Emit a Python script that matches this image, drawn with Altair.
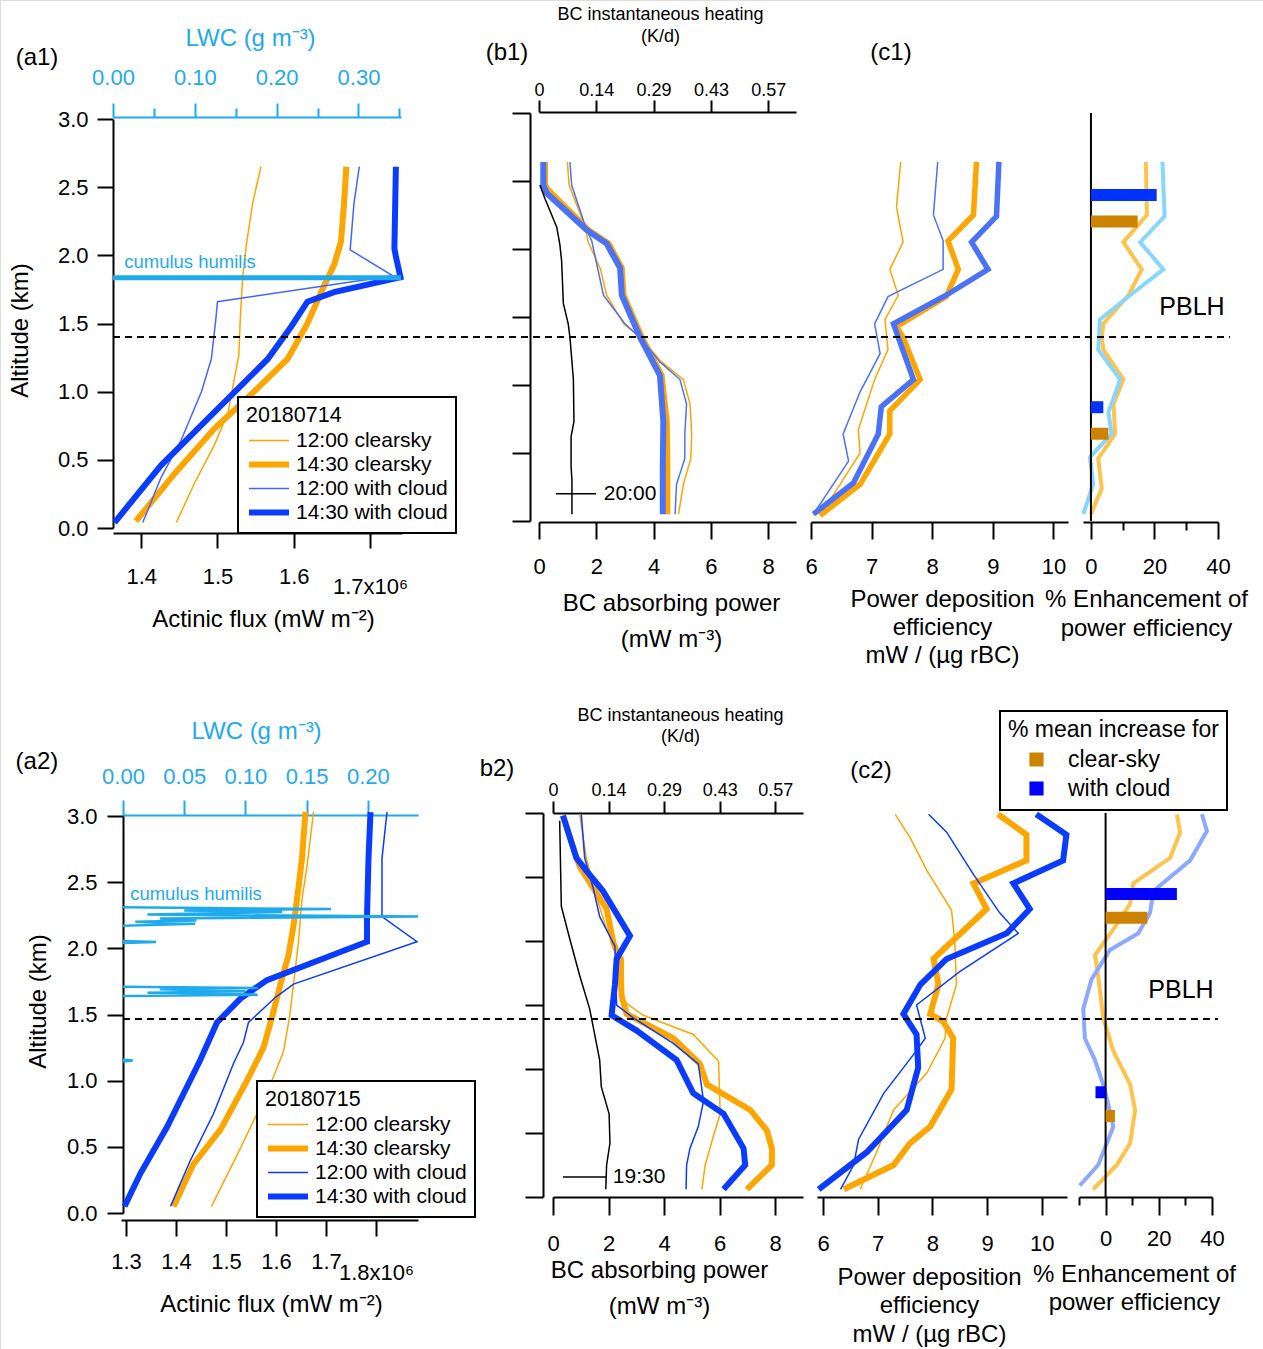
import altair as alt
import pandas as pd

FONT = "Liberation Sans"
W, H = 1263, 1349

ORANGE = "#FFA500"
A1_BLUE_THIN = "#4466FF"
A1_BLUE_THICK = "#0A3CFF"
B1_BLUE = "#4A72F8"
R2_BLUE = "#0A3CFF"
LWC_BLUE = "#1FAAEE"
D_ORANGE = "#FFC24A"
D1_BLUE = "#86D6FF"
D2_BLUE = "#8DA8FF"
BROWN = "#CC8400"
BAR1_BLUE = "#0033FF"
BAR2_BLUE = "#0000FF"

LINE_LABELS = ["12:00 clearsky", "14:30 clearsky", "12:00 with cloud", "14:30 with cloud"]
BAR_LABELS = ["clear-sky", "with cloud"]
ALT_TICKS = [0, 0.5, 1.0, 1.5, 2.0, 2.5, 3.0]

# ===================== Row 1 : 20180714 =====================
A1_FLUX_C12 = [1.446, 1.470, 1.496, 1.514, 1.522, 1.528, 1.530, 1.533, 1.538, 1.546, 1.557]
A1_ALT_C12 = [0.04, 0.33, 0.61, 0.85, 1.09, 1.27, 1.54, 1.84, 2.08, 2.38, 2.65]
A1_FLUX_C14 = [1.393, 1.444, 1.496, 1.548, 1.592, 1.618, 1.640, 1.653, 1.662, 1.666, 1.669]
A1_ALT_C14 = [0.05, 0.40, 0.73, 1.00, 1.24, 1.50, 1.78, 1.93, 2.10, 2.38, 2.65]
A1_FLUX_W12 = [1.402, 1.426, 1.452, 1.479, 1.492, 1.498, 1.500, 1.730, 1.674, 1.679, 1.686]
A1_ALT_W12 = [0.04, 0.37, 0.64, 1.00, 1.24, 1.54, 1.66, 1.85, 2.04, 2.38, 2.65]
A1_FLUX_W14 = [1.365, 1.426, 1.496, 1.566, 1.597, 1.618, 1.653, 1.740, 1.734, 1.732, 1.734]
A1_ALT_W14 = [0.04, 0.46, 0.85, 1.24, 1.48, 1.66, 1.73, 1.84, 1.99, 2.05, 2.65]
A1_LWC = [0.0, 0.352]
A1_LWC_ALT = [1.835, 1.835]

B1_P_C12 = [0.99, 1.05, 1.60, 1.72, 2.15, 2.36, 2.95, 3.53, 4.28, 5.04, 5.27, 5.33, 5.30, 5.04, 4.87]
B1_ALT_C12 = [2.64, 2.47, 2.17, 2.05, 1.85, 1.66, 1.45, 1.35, 1.17, 1.04, 0.86, 0.64, 0.46, 0.27, 0.05]
B1_P_C14 = [0.21, 0.21, 0.29, 1.72, 2.43, 2.89, 2.95, 3.59, 4.28, 4.46, 4.48, 4.48]
B1_ALT_C14 = [2.64, 2.47, 2.44, 2.14, 2.04, 1.86, 1.66, 1.35, 1.07, 0.73, 0.40, 0.05]
B1_P_W12 = [1.08, 1.14, 1.66, 1.84, 2.25, 3.00, 3.53, 4.22, 4.92, 5.15, 5.09, 5.09, 4.80, 4.75]
B1_ALT_W12 = [2.64, 2.47, 2.14, 2.06, 1.66, 1.45, 1.35, 1.17, 1.04, 0.86, 0.64, 0.46, 0.27, 0.05]
B1_P_W14 = [0.15, 0.15, 0.27, 1.66, 2.36, 2.83, 2.89, 3.53, 4.22, 4.34, 4.32, 4.32]
B1_ALT_W14 = [2.64, 2.47, 2.41, 2.14, 2.04, 1.86, 1.66, 1.35, 1.07, 0.73, 0.40, 0.05]
B1_P_BLACK = [0.03, 0.21, 0.62, 0.73, 0.79, 0.85, 1.02, 1.08, 1.20, 1.22, 1.12, 1.12, 1.15, 1.15]
B1_ALT_BLACK = [2.47, 2.37, 2.16, 2.03, 1.91, 1.60, 1.45, 1.35, 1.04, 0.73, 0.62, 0.40, 0.30, 0.05]
B1_MARK_P = [0.59, 1.99]
B1_MARK_ALT = [0.20]

C1_E_C12 = [7.48, 7.41, 7.52, 7.30, 7.44, 7.22, 7.27, 7.05, 6.78, 6.81, 6.48, 6.15]
C1_ALT_C12 = [2.64, 2.31, 2.05, 1.85, 1.66, 1.48, 1.26, 1.04, 0.67, 0.50, 0.27, 0.04]
C1_E_C14 = [8.73, 8.68, 8.26, 8.43, 8.23, 7.41, 7.52, 7.80, 7.30, 7.30, 6.81, 6.15]
C1_ALT_C14 = [2.64, 2.25, 2.06, 1.85, 1.65, 1.43, 1.35, 1.04, 0.81, 0.64, 0.27, 0.04]
C1_E_W12 = [8.09, 8.02, 8.18, 8.18, 7.27, 7.05, 7.14, 6.81, 6.53, 6.62, 6.04]
C1_ALT_W12 = [2.64, 2.25, 2.06, 1.85, 1.65, 1.45, 1.23, 0.95, 0.64, 0.44, 0.05]
C1_E_W14 = [9.10, 9.06, 8.65, 8.92, 8.23, 7.36, 7.44, 7.69, 7.16, 7.11, 6.70, 6.04]
C1_ALT_W14 = [2.64, 2.24, 2.05, 1.85, 1.66, 1.45, 1.35, 1.04, 0.84, 0.64, 0.28, 0.05]

D1_PCT_CLEAR = [17.3, 17.6, 10.2, 16.0, 11.8, 3.9, 3.4, 3.9, 10.2, 7.1, 7.6, 2.3, 3.4, 0.0]
D1_ALT_CLEAR = [2.64, 2.25, 2.05, 1.85, 1.66, 1.45, 1.35, 1.26, 1.04, 0.86, 0.64, 0.46, 0.24, 0.05]
D1_PCT_CLOUD = [22.5, 23.2, 15.5, 22.8, 12.3, 2.8, 2.3, 9.2, 5.5, 6.5, -0.3, 0.7, -2.4]
D1_ALT_CLOUD = [2.64, 2.24, 2.05, 1.85, 1.66, 1.48, 1.26, 1.04, 0.80, 0.64, 0.47, 0.27, 0.05]
D1_BAR_KIND = ["with cloud", "clear-sky", "with cloud", "clear-sky"]
D1_BAR_PCT = [20.7, 14.7, 3.9, 5.5]
D1_BAR_ALT = [2.42, 2.22, 0.82, 0.62]

PBLH1_ALT = [1.401]

# ===================== Row 2 : 20180715 =====================
A2_FLUX_C12 = [1.471, 1.529, 1.562, 1.595, 1.615, 1.627, 1.635, 1.645, 1.652, 1.662, 1.675]
A2_ALT_C12 = [0.05, 0.49, 0.75, 1.03, 1.22, 1.48, 1.73, 2.05, 2.37, 2.62, 3.03]
A2_FLUX_C14 = [1.395, 1.435, 1.489, 1.542, 1.575, 1.592, 1.609, 1.625, 1.635, 1.645, 1.652, 1.659]
A2_ALT_C14 = [0.05, 0.37, 0.63, 1.00, 1.25, 1.48, 1.73, 1.95, 2.17, 2.46, 2.68, 3.03]
A2_FLUX_W12 = [1.389, 1.429, 1.475, 1.515, 1.535, 1.545, 1.599, 1.635, 1.882, 1.812, 1.812, 1.822]
A2_ALT_W12 = [0.05, 0.40, 0.75, 1.13, 1.29, 1.44, 1.63, 1.73, 2.05, 2.24, 2.68, 3.03]
A2_FLUX_W14 = [1.297, 1.329, 1.382, 1.449, 1.482, 1.529, 1.582, 1.782, 1.782, 1.785, 1.789]
A2_ALT_W14 = [0.05, 0.30, 0.65, 1.16, 1.44, 1.62, 1.76, 2.05, 2.24, 2.68, 3.03]
A2_LWC_GROUP = [0, 0, 0, 1, 1, 1, 1, 1, 1, 1, 2, 2, 2,
                3, 3, 3, 3, 3, 3, 3, 3, 3, 3, 3]
A2_LWC = [0.0, 0.008, 0.0, 0.0, 0.11, 0.02, 0.10, 0.03, 0.11, 0.0, 0.0, 0.027, 0.0,
          0.0, 0.059, 0.01, 0.06, 0.03, 0.241, 0.02, 0.13, 0.05, 0.17, 0.0]
A2_LWC_ALT = [1.145, 1.152, 1.158, 1.64, 1.65, 1.665, 1.675, 1.69, 1.70, 1.71, 2.04, 2.048, 2.056,
              2.17, 2.185, 2.20, 2.21, 2.225, 2.24, 2.255, 2.275, 2.285, 2.297, 2.31]

B2_P_C12 = [0.96, 1.20, 1.50, 1.93, 2.53, 2.53, 3.25, 5.05, 5.96, 6.02, 5.78, 5.48, 5.36]
B2_ALT_C12 = [2.99, 2.65, 2.39, 2.09, 1.86, 1.53, 1.42, 1.27, 1.06, 0.65, 0.48, 0.25, 0.06]
B2_P_C14 = [0.36, 0.96, 1.93, 2.17, 2.41, 2.47, 2.65, 4.33, 5.29, 5.54, 7.10, 7.70, 7.88, 7.88, 6.98]
B2_ALT_C14 = [2.98, 2.58, 2.25, 1.99, 1.86, 1.57, 1.43, 1.24, 1.04, 0.88, 0.68, 0.52, 0.38, 0.25, 0.06]
B2_P_W12 = [1.02, 1.14, 1.44, 1.68, 2.23, 2.29, 2.89, 4.33, 5.23, 5.42, 5.23, 4.93, 4.81, 4.79]
B2_ALT_W12 = [2.99, 2.65, 2.42, 2.19, 1.96, 1.50, 1.40, 1.20, 1.04, 0.75, 0.55, 0.38, 0.25, 0.06]
B2_P_W14 = [0.36, 0.84, 1.20, 1.80, 2.77, 2.29, 2.23, 2.11, 3.01, 4.45, 5.05, 6.14, 6.86, 6.92, 6.14]
B2_ALT_W14 = [2.98, 2.65, 2.55, 2.39, 2.04, 1.86, 1.66, 1.42, 1.30, 1.07, 0.81, 0.65, 0.38, 0.25, 0.06]
B2_P_BLACK = [0.24, 0.30, 0.60, 0.96, 1.32, 1.50, 1.68, 1.74, 2.02, 2.05, 1.93, 1.90]
B2_ALT_BLACK = [2.94, 2.27, 2.02, 1.73, 1.47, 1.27, 1.07, 0.86, 0.65, 0.42, 0.25, 0.06]
B2_MARK_P = [0.36, 1.93]
B2_MARK_ALT = [0.156]

C2_E_C12 = [7.32, 7.59, 7.90, 8.35, 8.41, 8.44, 8.26, 8.23, 7.90, 7.29, 6.98, 6.68]
C2_ALT_C12 = [2.99, 2.81, 2.55, 2.24, 1.99, 1.66, 1.40, 1.24, 0.97, 0.68, 0.35, 0.06]
C2_E_C14 = [9.20, 9.72, 9.72, 8.75, 8.99, 8.02, 8.11, 7.96, 8.20, 8.38, 8.35, 7.96, 7.59, 7.29, 6.38]
C2_ALT_C14 = [2.99, 2.83, 2.63, 2.45, 2.25, 1.86, 1.66, 1.43, 1.37, 1.24, 0.84, 0.55, 0.42, 0.25, 0.06]
C2_E_W12 = [7.93, 8.26, 8.75, 9.23, 9.57, 8.50, 7.71, 7.87, 7.65, 7.11, 6.65, 6.56, 6.32]
C2_ALT_W12 = [2.99, 2.85, 2.52, 2.22, 2.06, 1.76, 1.50, 1.24, 1.11, 0.81, 0.45, 0.25, 0.06]
C2_E_W14 = [9.90, 10.45, 10.39, 9.48, 9.78, 9.36, 8.26, 7.78, 7.47, 7.71, 7.74, 7.53, 6.80, 5.92]
C2_ALT_W14 = [2.99, 2.83, 2.63, 2.45, 2.25, 2.06, 1.86, 1.66, 1.43, 1.27, 1.01, 0.68, 0.35, 0.06]

D2_PCT_CLEAR = [26.8, 28.0, 24.3, 10.4, 9.2, 2.9, -4.0, -2.8, -0.9, 2.9, 9.2, 11.1, 9.2, 4.2, -4.7]
D2_ALT_CLEAR = [2.99, 2.85, 2.65, 2.45, 2.29, 2.09, 1.89, 1.73, 1.40, 1.14, 0.88, 0.68, 0.42, 0.25, 0.06]
D2_PCT_CLOUD = [36.2, 38.1, 31.8, 18.0, 16.7, 12.3, 1.6, -5.3, -8.4, -7.8, -4.0, -0.3, 2.9, -0.3, -2.8, -9.7]
D2_ALT_CLOUD = [2.99, 2.86, 2.63, 2.39, 2.22, 2.06, 1.93, 1.70, 1.47, 1.24, 1.07, 0.84, 0.55, 0.38, 0.25, 0.09]
D2_BAR_KIND = ["with cloud", "clear-sky", "with cloud", "clear-sky"]
D2_BAR_PCT = [26.8, 15.7, -3.8, 3.5]
D2_BAR_ALT = [2.39, 2.20, 0.80, 0.61]

PBLH2_ALT = [1.466]
PBLH_SPAN = [0.0, 1.0]

# annotation texts (positions in the units of the panel they sit in)
R1A_TEXT = ["(a1)", "cumulus humilis"]
R1A_LWC = [-0.0929, 0.0941]
R1A_ALT = [3.447, 1.951]
R1B_TEXT = ["(b1)", "20:00"]
R1B_P = [-1.117, 3.18]
R1B_ALT = [3.441, 0.199]
R1C_TEXT = ["(c1)"]
R1C_E = [7.32]
R1C_ALT = [3.441]
R1D_TEXT = ["PBLH"]
R1D_PCT = [31.8]
R1D_ALT = [1.574]

R2A_TEXT = ["(a2)", "cumulus humilis"]
R2A_LWC = [-0.0703, 0.0596]
R2A_ALT = [3.408, 2.411]
R2B_TEXT = ["b2)", "19:30"]
R2B_P = [-2.016, 3.10]
R2B_ALT = [3.344, 0.156]
R2C_TEXT = ["(c2)"]
R2C_E = [6.877]
R2C_ALT = [3.328]
R2D_TEXT = ["PBLH"]
R2D_PCT = [28.35]
R2D_ALT = [1.617]


# ===================== helpers =====================
def S(domain, rng):
    return alt.Scale(domain=domain, range=rng, nice=False, zero=False)


# scales (pixel ranges place each panel on the page)
A1_X = S([1.363, 1.742], [113, 402])
A1_LX = S([0.0, 0.352], [113, 401])
A1_Y = S([0, 3], [528, 119])
B1_X = S([0.0, 8.97], [539, 796])
C1_X = S([6.0, 10.24], [811, 1068])
D1_X = S([-2.5, 40.0], [1083, 1218])
R1_Y = S([0, 3], [521, 113])
SP1_X = S([0, 1], [113, 1230])

A2_X = S([1.29, 1.884], [121, 418])
A2_LX = S([0.0, 0.241], [123, 418])
A2_Y = S([0, 3], [1213, 816])
B2_X = S([0.0, 9.0], [553, 803])
C2_X = S([5.89, 10.461], [817, 1067])
D2_X = S([-10.0, 40.0], [1079, 1212])
R2_Y = S([0, 3], [1197, 813])
SP2_X = S([0, 1], [123, 1218])

AXBASE = dict(grid=False, labelFlush=False, labelOverlap=False, domainWidth=2, tickWidth=2,
              domainColor="black", tickColor="black", labelColor="black", titleColor="black",
              labelFont=FONT, titleFont=FONT, titleFontWeight="normal", labelFontSize=22,
              titleFontSize=24)


def ax(**kw):
    d = dict(AXBASE)
    d.update(kw)
    return alt.Axis(**d)


def prof(*series):
    rows = []
    for k, xs, ys in series:
        for i, (x, y) in enumerate(zip(xs, ys)):
            rows.append({"k": k, "x": x, "alt": y, "i": i})
    return pd.DataFrame(rows)


TH = [0.5, 1.5, 2.5]


def four_lines(df, xs, ys, colors, widths, xaxis=None, yaxis=None, legend=None):
    return alt.Chart(df).mark_line(strokeCap="butt").encode(
        x=alt.X("x:Q", scale=xs, axis=xaxis),
        y=alt.Y("alt:Q", scale=ys, axis=yaxis),
        color=alt.Color("k:Q", scale=alt.Scale(type="threshold", domain=TH, range=colors), legend=legend),
        strokeWidth=alt.StrokeWidth("k:Q", scale=alt.Scale(type="threshold", domain=TH, range=widths),
                                    legend=legend),
        detail="k:N",
        order="i:Q",
    )


def line_legend(title, lx, ly):
    expr = "[" + ",".join("'%s'" % s for s in LINE_LABELS) + "][datum.index]"
    return alt.Legend(title=title, orient="none", legendX=lx, legendY=ly, symbolType="stroke",
                      symbolSize=1600, clipHeight=24, labelExpr=expr, labelFontSize=21,
                      titleFontSize=21.5, titleFontWeight="normal", labelFont=FONT, titleFont=FONT,
                      labelColor="black", titleColor="black", strokeColor="black", fillColor="white",
                      padding=8, labelOffset=4, titlePadding=2, rowPadding=0, zindex=1,
                      titleLimit=400, labelLimit=400)


def black_line(xs_vals, alts, xs, ys, xaxis):
    df = pd.DataFrame({"x": xs_vals, "alt": alts, "i": list(range(len(alts)))})
    return alt.Chart(df).mark_line(color="black", strokeWidth=1.5).encode(
        x=alt.X("x:Q", scale=xs, axis=xaxis), y=alt.Y("alt:Q", scale=ys, axis=None), order="i:Q")


def marker(pvals, alt_val, xs, ys):
    df = pd.DataFrame({"x0": [pvals[0]], "x1": [pvals[1]], "alt": alt_val})
    return alt.Chart(df).mark_rule(color="black", strokeWidth=1.5).encode(
        x=alt.X("x0:Q", scale=xs, axis=None), x2="x1", y=alt.Y("alt:Q", scale=ys, axis=None))


def two_lines(xa, ya, xb, yb, colors, xs, ys, xaxis):
    df = prof((0, xa, ya), (1, xb, yb))
    return alt.Chart(df).mark_line(strokeWidth=4, strokeCap="butt").encode(
        x=alt.X("x:Q", scale=xs, axis=xaxis), y=alt.Y("alt:Q", scale=ys, axis=None),
        color=alt.Color("k:N", scale=alt.Scale(domain=[0, 1], range=colors), legend=None),
        detail="k:N", order="i:Q")


def zero_rule(xs, ys, minor_axis):
    df = pd.DataFrame({"z": [0.0], "a0": [0.0], "a1": [3.0]})
    return alt.Chart(df).mark_rule(color="black", strokeWidth=2).encode(
        x=alt.X("z:Q", scale=xs, axis=minor_axis), y=alt.Y("a0:Q", scale=ys, axis=None), y2="a1")


def bars(kinds, pcts, alts, blue, xs, ys, legend=None):
    df = pd.DataFrame({"kind": kinds, "v": pcts, "z": [0.0] * len(pcts), "alt": alts})
    return alt.Chart(df).mark_bar(size=12, orient="horizontal").encode(
        x=alt.X("v:Q", scale=xs, axis=None), x2="z", y=alt.Y("alt:Q", scale=ys, axis=None),
        color=alt.Color("kind:N", scale=alt.Scale(domain=BAR_LABELS, range=[BROWN, blue]), legend=legend))


def pblh(alt_val, xs, ys):
    df = pd.DataFrame({"x0": [PBLH_SPAN[0]], "x1": [PBLH_SPAN[1]], "alt": alt_val})
    return alt.Chart(df).mark_rule(color="black", strokeWidth=2, strokeDash=[7, 5]).encode(
        x=alt.X("x0:Q", scale=xs, axis=None), x2="x1", y=alt.Y("alt:Q", scale=ys, axis=None))


def texts(labels, xv, av, sizes, colors, xs, ys, xaxis=None):
    df = pd.DataFrame({"t": labels, "x": xv, "alt": av, "fs": sizes, "c": colors})
    return alt.Chart(df).mark_text(font=FONT, align="center", baseline="middle").encode(
        x=alt.X("x:Q", scale=xs, axis=xaxis), y=alt.Y("alt:Q", scale=ys, axis=None),
        text="t:N", size=alt.Size("fs:Q", scale=None), color=alt.Color("c:N", scale=None))


HEAT_EXPR = "datum.value == 0 ? '0' : format(datum.value * 0.0714, '.2f')"

layers = []

# ---------------- Row 1 ----------------
df_a1 = prof((0, A1_FLUX_C12, A1_ALT_C12), (1, A1_FLUX_C14, A1_ALT_C14),
             (2, A1_FLUX_W12, A1_ALT_W12), (3, A1_FLUX_W14, A1_ALT_W14))
layers.append(four_lines(
    df_a1, A1_X, A1_Y, [ORANGE, ORANGE, A1_BLUE_THIN, A1_BLUE_THICK], [1.5, 6, 1.5, 6],
    xaxis=ax(orient="bottom", offset=533 - H, values=[1.4, 1.5, 1.6, 1.7], tickSize=15,
             labelExpr="datum.value > 1.65 ? '1.7x10\u2076' : format(datum.value, '.1f')",
             labelPadding={"condition": {"test": "datum.value > 1.65", "value": 28.5}, "value": 18.5},
             title="Actinic flux (mW m\u207b\u00b2)", titleX=263, titleY=74, titleBaseline="top",
             titleAlign="center"),
    yaxis=ax(orient="left", offset=-113, values=ALT_TICKS, format=".1f", tickSize=16, labelPadding=9,
             title="Altitude (km)", titleAngle=270, titleX=-93, titleY=330, titleBaseline="middle",
             titleAlign="center"),
    legend=line_legend("20180714", 238, 397)))
df_lwc1 = pd.DataFrame({"x": A1_LWC, "alt": A1_LWC_ALT, "i": [0, 1]})
layers.append(alt.Chart(df_lwc1).mark_line(color=LWC_BLUE, strokeWidth=5).encode(
    x=alt.X("x:Q", scale=A1_LX,
            axis=ax(orient="top", offset=-117, values=[0, 0.1, 0.2, 0.3], format=".2f", tickSize=14,
                    labelPadding=13.5, labelColor=LWC_BLUE, domainColor=LWC_BLUE, tickColor=LWC_BLUE,
                    title="LWC (g m\u207b\u00b3)", titleColor=LWC_BLUE, titleX=250, titleY=-79,
                    titleBaseline="middle", titleAlign="center")),
    y=alt.Y("alt:Q", scale=A1_Y, axis=None), order="i:Q"))
layers.append(texts(R1A_TEXT, R1A_LWC, R1A_ALT, [24, 18.5], ["black", LWC_BLUE], A1_LX, A1_Y,
                    xaxis=ax(orient="top", offset=-117, values=[0.05, 0.15, 0.25, 0.35], tickSize=9,
                             labels=False, domain=False, tickColor=LWC_BLUE, title=None)))

df_b1 = prof((0, B1_P_C12, B1_ALT_C12), (1, B1_P_C14, B1_ALT_C14),
             (2, B1_P_W12, B1_ALT_W12), (3, B1_P_W14, B1_ALT_W14))
layers.append(four_lines(
    df_b1, B1_X, R1_Y, [ORANGE, ORANGE, B1_BLUE, B1_BLUE], [1.5, 6, 1.5, 6],
    xaxis=ax(orient="bottom", offset=522 - H, values=[0, 2, 4, 6, 8], format="d", tickSize=17,
             labelPadding=17.5, title=["BC absorbing power", "(mW m\u207b\u00b3)"], titleX=671,
             titleY=69, titleBaseline="top", titleAlign="center", titleLineHeight=36),
    yaxis=ax(orient="left", offset=-530, values=ALT_TICKS, tickSize=18, labels=False, title=None)))
layers.append(black_line(B1_P_BLACK, B1_ALT_BLACK, B1_X, R1_Y,
                         ax(orient="top", offset=-112, values=[0, 2, 4, 6, 8], labelExpr=HEAT_EXPR,
                            tickSize=12, labelPadding=1, labelFontSize=18,
                            title=["BC instantaneous heating", "(K/d)"], titleFontSize=18, titleX=660,
                            titleY=-106.3, titleBaseline="top", titleAlign="center",
                            titleLineHeight=22)))
layers.append(marker(B1_MARK_P, B1_MARK_ALT, B1_X, R1_Y))
layers.append(texts(R1B_TEXT, R1B_P, R1B_ALT, [24, 21], ["black", "black"], B1_X, R1_Y))

df_c1 = prof((0, C1_E_C12, C1_ALT_C12), (1, C1_E_C14, C1_ALT_C14),
             (2, C1_E_W12, C1_ALT_W12), (3, C1_E_W14, C1_ALT_W14))
layers.append(four_lines(
    df_c1, C1_X, R1_Y, [ORANGE, ORANGE, B1_BLUE, B1_BLUE], [1.5, 5.5, 1.5, 5.5],
    xaxis=ax(orient="bottom", offset=522 - H, values=[6, 7, 8, 9, 10], format="d", tickSize=17,
             labelPadding=17.5, title=["Power deposition", "efficiency", "mW / (\u00b5g rBC)"],
             titleX=942, titleY=65, titleBaseline="top", titleAlign="center", titleLineHeight=28)))
layers.append(texts(R1C_TEXT, R1C_E, R1C_ALT, [24], ["black"], C1_X, R1_Y))

layers.append(two_lines(D1_PCT_CLEAR, D1_ALT_CLEAR, D1_PCT_CLOUD, D1_ALT_CLOUD, [D_ORANGE, D1_BLUE],
                        D1_X, R1_Y,
                        ax(orient="bottom", offset=522 - H, values=[0, 20, 40], format="d", tickSize=17,
                           labelPadding=17.5, title=["% Enhancement of", "power efficiency"],
                           titleX=1146, titleY=65, titleBaseline="top", titleAlign="center",
                           titleLineHeight=29)))
layers.append(zero_rule(D1_X, R1_Y, ax(orient="bottom", offset=522 - H, values=[10, 30], tickSize=8,
                                       labels=False, domain=False, title=None)))
layers.append(bars(D1_BAR_KIND, D1_BAR_PCT, D1_BAR_ALT, BAR1_BLUE, D1_X, R1_Y))
layers.append(texts(R1D_TEXT, R1D_PCT, R1D_ALT, [25], ["black"], D1_X, R1_Y))
layers.append(pblh(PBLH1_ALT, SP1_X, A1_Y))

# ---------------- Row 2 ----------------
df_a2 = prof((0, A2_FLUX_C12, A2_ALT_C12), (1, A2_FLUX_C14, A2_ALT_C14),
             (2, A2_FLUX_W12, A2_ALT_W12), (3, A2_FLUX_W14, A2_ALT_W14))
layers.append(four_lines(
    df_a2, A2_X, A2_Y, [ORANGE, ORANGE, R2_BLUE, R2_BLUE], [1.5, 6, 1.5, 6],
    xaxis=ax(orient="bottom", offset=1220 - H, values=[1.3, 1.4, 1.5, 1.6, 1.7, 1.8], tickSize=16,
             labelExpr="datum.value > 1.75 ? '1.8x10\u2076' : format(datum.value, '.1f')",
             labelPadding={"condition": {"test": "datum.value > 1.75", "value": 26.5}, "value": 15.5},
             title="Actinic flux (mW m\u207b\u00b2)", titleX=271, titleY=72.5, titleBaseline="top",
             titleAlign="center"),
    yaxis=ax(orient="left", offset=-123, values=ALT_TICKS, format=".1f", tickSize=16, labelPadding=10,
             title="Altitude (km)", titleAngle=270, titleX=-85, titleY=1001, titleBaseline="middle",
             titleAlign="center"),
    legend=line_legend("20180715", 257, 1081)))
df_lwc2 = pd.DataFrame({"x": A2_LWC, "alt": A2_LWC_ALT, "g": A2_LWC_GROUP,
                        "i": list(range(len(A2_LWC)))})
layers.append(alt.Chart(df_lwc2).mark_line(color=LWC_BLUE, strokeWidth=2.5).encode(
    x=alt.X("x:Q", scale=A2_LX,
            axis=ax(orient="top", offset=-815, values=[0, 0.05, 0.1, 0.15, 0.2], format=".2f",
                    tickSize=15, labelPadding=11.5, labelColor=LWC_BLUE, domainColor=LWC_BLUE,
                    tickColor=LWC_BLUE, title="LWC (g m\u207b\u00b3)", titleColor=LWC_BLUE, titleX=256,
                    titleY=-84, titleBaseline="middle", titleAlign="center")),
    y=alt.Y("alt:Q", scale=A2_Y, axis=None), detail="g:N", order="i:Q"))
layers.append(texts(R2A_TEXT, R2A_LWC, R2A_ALT, [24, 18.5], ["black", LWC_BLUE], A2_LX, A2_Y))

df_b2 = prof((0, B2_P_C12, B2_ALT_C12), (1, B2_P_C14, B2_ALT_C14),
             (2, B2_P_W12, B2_ALT_W12), (3, B2_P_W14, B2_ALT_W14))
layers.append(four_lines(
    df_b2, B2_X, R2_Y, [ORANGE, ORANGE, R2_BLUE, R2_BLUE], [1.5, 6, 1.5, 6],
    xaxis=ax(orient="bottom", offset=1197 - H, values=[0, 2, 4, 6, 8], format="d", tickSize=18,
             labelPadding=18, title=["BC absorbing power", "(mW m\u207b\u00b3)"], titleX=659,
             titleY=61, titleBaseline="top", titleAlign="center", titleLineHeight=36.5),
    yaxis=ax(orient="left", offset=-543, values=ALT_TICKS, tickSize=18, labels=False, title=None)))
layers.append(black_line(B2_P_BLACK, B2_ALT_BLACK, B2_X, R2_Y,
                         ax(orient="top", offset=-813, values=[0, 2, 4, 6, 8], labelExpr=HEAT_EXPR,
                            tickSize=12, labelPadding=1.8, labelFontSize=18,
                            title=["BC instantaneous heating", "(K/d)"], titleFontSize=18, titleX=680,
                            titleY=-106.3, titleBaseline="top", titleAlign="center",
                            titleLineHeight=21)))
layers.append(marker(B2_MARK_P, B2_MARK_ALT, B2_X, R2_Y))
layers.append(texts(R2B_TEXT, R2B_P, R2B_ALT, [24, 21], ["black", "black"], B2_X, R2_Y))

df_c2 = prof((0, C2_E_C12, C2_ALT_C12), (1, C2_E_C14, C2_ALT_C14),
             (2, C2_E_W12, C2_ALT_W12), (3, C2_E_W14, C2_ALT_W14))
layers.append(four_lines(
    df_c2, C2_X, R2_Y, [ORANGE, ORANGE, R2_BLUE, R2_BLUE], [1.5, 6, 1.5, 6],
    xaxis=ax(orient="bottom", offset=1197 - H, values=[6, 7, 8, 9, 10], format="d", tickSize=18,
             labelPadding=18, title=["Power deposition", "efficiency", "mW / (\u00b5g rBC)"],
             titleX=929, titleY=68, titleBaseline="top", titleAlign="center", titleLineHeight=28.5)))
layers.append(texts(R2C_TEXT, R2C_E, R2C_ALT, [24], ["black"], C2_X, R2_Y))

layers.append(two_lines(D2_PCT_CLEAR, D2_ALT_CLEAR, D2_PCT_CLOUD, D2_ALT_CLOUD, [D_ORANGE, D2_BLUE],
                        D2_X, R2_Y,
                        ax(orient="bottom", offset=1197 - H, values=[0, 20, 40], format="d", tickSize=18,
                           labelPadding=13.5, title=["% Enhancement of", "power efficiency"],
                           titleX=1134, titleY=65, titleBaseline="top", titleAlign="center",
                           titleLineHeight=28)))
layers.append(zero_rule(D2_X, R2_Y, ax(orient="bottom", offset=1197 - H, values=[-10, 10, 30], tickSize=8,
                                       labels=False, domain=False, title=None)))
bar_leg = alt.Legend(title="% mean increase for", orient="none", legendX=1000, legendY=711,
                     symbolType="square", symbolSize=200, clipHeight=27, symbolOffset=17,
                     labelOffset=20, padding=8, titlePadding=4, strokeColor="black",
                     fillColor="white", labelFontSize=23, titleFontSize=23, titleFontWeight="normal",
                     labelFont=FONT, titleFont=FONT, labelColor="black", titleColor="black",
                     symbolStrokeWidth=0, zindex=1, titleLimit=500, labelLimit=400)
layers.append(bars(D2_BAR_KIND, D2_BAR_PCT, D2_BAR_ALT, BAR2_BLUE, D2_X, R2_Y, legend=bar_leg))
layers.append(texts(R2D_TEXT, R2D_PCT, R2D_ALT, [25], ["black"], D2_X, R2_Y))
layers.append(pblh(PBLH2_ALT, SP2_X, A2_Y))

chart = alt.layer(*layers).resolve_scale(
    x="independent", y="independent", color="independent", strokeWidth="independent", size="independent"
).resolve_axis(x="independent", y="independent").resolve_legend(
    color="independent", strokeWidth="independent"
).properties(
    width=W, height=H, autosize=alt.AutoSizeParams(type="none"), padding=0
).configure_view(stroke=None).configure(font=FONT, background="white").configure_legend(strokeWidth=2)

chart.save("out.html", embed_options={"renderer": "svg", "actions": False})
